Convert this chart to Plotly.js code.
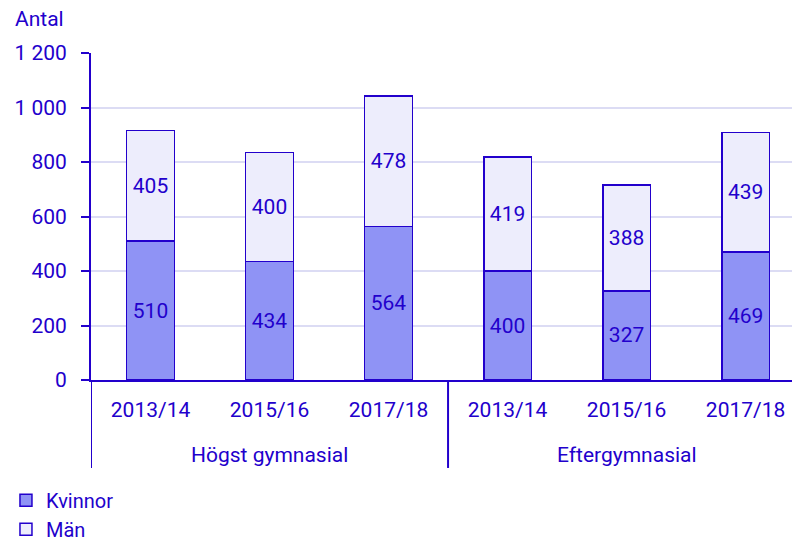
<!DOCTYPE html>
<html>
<head>
<meta charset="utf-8">
<script src="https://cdn.plot.ly/plotly-3.0.1.min.js"></script>
<style>html,body{margin:0;padding:0;background:#fff;}#chart{width:792px;height:543px;}</style>
</head>
<body>
<div id="chart"></div>
<script>
var groupNames = ["Högst gymnasial", "Eftergymnasial"];
var groups = ["Högst gymnasial","Högst gymnasial","Högst gymnasial","Eftergymnasial","Eftergymnasial","Eftergymnasial"];
var years = ["2013/14","2015/16","2017/18","2013/14","2015/16","2017/18"];
var kvinnor = [510, 434, 564, 400, 327, 469];
var man = [405, 400, 478, 419, 388, 439];

var ink = "#2200cc";
var fnt = "Roboto, 'Noto Sans', sans-serif";
var xs = years.map(function(_, i){ return i; });

function barTrace(name, vals, fill){
  return {type:"bar", name:name, x:xs, y:vals, text:vals.map(String),
    textposition:"inside", insidetextanchor:"middle", textangle:0,
    textfont:{family:fnt, size:21, color:ink},
    marker:{color:fill, line:{color:ink, width:1.5}}, width:0.4, hoverinfo:"none"};
}
var traces = [barTrace("Kvinnor", kvinnor, "#8f93f5"), barTrace("Män", man, "#ededfc")];

var annotations = [
  {text:"Antal", xref:"paper", yref:"paper", x:-0.1117, y:1.104, xanchor:"left", yanchor:"middle",
   showarrow:false, font:{family:fnt, size:21, color:ink}}
];
var shapes = [];
groupNames.forEach(function(g){
  var idx = xs.filter(function(i){ return groups[i] === g; });
  var mid = (idx[0] + idx[idx.length-1]) / 2;
  annotations.push({text:g, xref:"x", yref:"paper", x:mid, y:-0.229, xanchor:"center", yanchor:"middle",
    showarrow:false, font:{family:fnt, size:21, color:ink}});
  shapes.push({type:"line", xref:"x", yref:"paper", x0:idx[0]-0.5, x1:idx[0]-0.5, y0:0, y1:-0.269,
    line:{color:ink, width:2}});
});

var layout = {
  width:792, height:543,
  margin:{l:91, r:0, t:53, b:163, pad:0, autoexpand:false},
  paper_bgcolor:"#fff", plot_bgcolor:"#fff",
  barmode:"stack",
  separators:", ",
  font:{family:fnt, size:21, color:ink},
  showlegend:true,
  legend:{orientation:"v", x:-0.1213, xanchor:"left", y:-0.308, yanchor:"top",
          traceorder:"normal", font:{family:fnt, size:20, color:ink},
          itemwidth:30, tracegroupgap:0, bgcolor:"rgba(0,0,0,0)"},
  xaxis:{range:[-0.5, 5.39], tickmode:"array", tickvals:xs, ticktext:years,
         showline:true, linecolor:ink, linewidth:2, showgrid:false, zeroline:false, ticks:"",
         ticklabelstandoff:10, automargin:false,
         tickfont:{family:fnt, size:21, color:ink}, fixedrange:true},
  yaxis:{range:[0,1200], dtick:200, tick0:0, showline:true, linecolor:ink, linewidth:2,
         ticks:"outside", ticklen:8, tickcolor:ink, tickwidth:2, ticklabelstandoff:10,
         gridcolor:"#dcdcf4", gridwidth:2, zeroline:false, automargin:false,
         separatethousands:true, tickformat:",d",
         tickfont:{family:fnt, size:21, color:ink}, fixedrange:true},
  annotations:annotations,
  shapes:shapes
};

Plotly.newPlot("chart", traces, layout, {displayModeBar:false, staticPlot:true});
</script>
</body>
</html>
